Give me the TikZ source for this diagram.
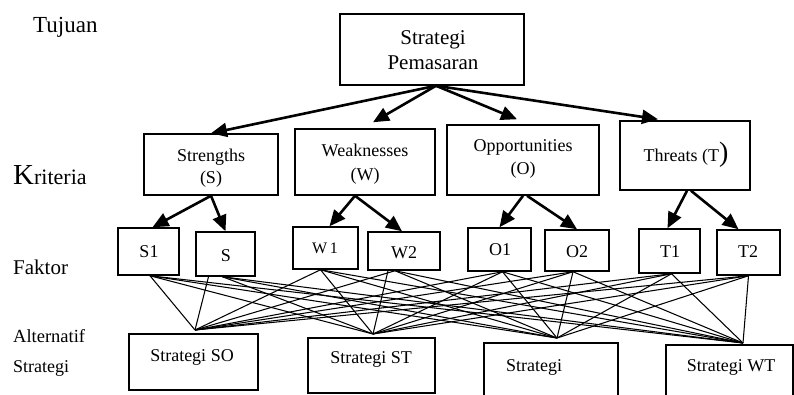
\documentclass[tikz,border=0pt]{standalone}
\usepackage{fontspec}
\setmainfont{Liberation Serif}
\usetikzlibrary{arrows.meta,fit}
\begin{document}
\begin{tikzpicture}[x=1pt,y=-1pt,
  box/.style={draw,line width=1.5pt,inner sep=0pt},
  txt/.style={inner sep=0pt,font=\fontsize{18}{22}\selectfont,align=center},
  side/.style={inner sep=0pt,anchor=west},
  arr/.style={line width=2.6pt,-{Triangle[length=16pt,width=14pt]}},
  thinline/.style={line width=1.05pt}]
\useasboundingbox (0,0) rectangle (794,394);

% left labels
\node[side,font=\fontsize{23}{23}\selectfont] (tuj) at (33,27) {Tujuan};
\node[side,font=\fontsize{22}{22}\selectfont] (krit) at (13,175) {{\fontsize{29}{29}\selectfont K}riteria};
\node[side,font=\fontsize{21}{21}\selectfont] (fak) at (13,267) {Faktor};
\node[side,font=\fontsize{18.5}{18.5}\selectfont] (alt) at (13,336) {Alternatif};
\node[side,font=\fontsize{18}{18}\selectfont] (strat) at (13,368) {Strategi};

% goal
\node[box,fit={(340,14)(524,85)}] (goal) {};
\node[txt,font=\fontsize{21}{25}\selectfont] (goalT) at (433,50) {Strategi\\Pemasaran};

% criteria
\node[box,fit={(144,134)(278,195)}] (str) {};
\node[box,fit={(295,129)(435,195)}] (wk) {};
\node[box,fit={(447,125)(599,195)}] (op) {};
\node[box,fit={(620,121)(750,190)}] (th) {};
\node[txt] (strT) at (211,168) {Strengths\\(S)};
\node[txt,font=\fontsize{18}{24}\selectfont] (wkT) at (365,164) {Weaknesses\\(W)};
\node[txt,font=\fontsize{18}{23}\selectfont] (opT) at (523,158.5) {Opportunities\\(O)};
\node[txt] (thT) at (686,155) {Threats (T{\fontsize{28}{28}\selectfont)}};

% factors
\node[box,fit={(118,228)(179,275)}] (s1) {};
\node[box,fit={(196,232)(255,276)}] (s) {};
\node[box,fit={(293,227)(358,269)}] (w1) {};
\node[box,fit={(368,232)(440,270)}] (w2) {};
\node[box,fit={(468,228)(531,271)}] (o1) {};
\node[box,fit={(545,230)(609,271)}] (o2) {};
\node[box,fit={(639,229)(700,273)}] (t1) {};
\node[box,fit={(717,230)(780,275)}] (t2) {};
\node[txt] (s1T) at (149,252) {S1};
\node[txt] (sT) at (226,256) {S};
\node[txt,font=\fontsize{16}{18}\selectfont] (w1T) at (325,248) {W\,1};
\node[txt] (w2T) at (404,253) {W2};
\node[txt] (o1T) at (500,250) {O1};
\node[txt] (o2T) at (577,252) {O2};
\node[txt] (t1T) at (670,252) {T1};
\node[txt] (t2T) at (748,252) {T2};

% alternatives
\node[box,fit={(129,334)(258,390)}] (so) {};
\node[box,fit={(308,338)(435,393)}] (st) {};
\node[box,fit={(484,343)(618,400)}] (sO) {};
\node[box,fit={(666,345)(793,400)}] (wt) {};
\node[txt] (soT) at (192,357) {Strategi SO};
\node[txt] (stT) at (371,359) {Strategi ST};
\node[txt] (sOT) at (534,367) {Strategi};
\node[txt] (wtT) at (731,367) {Strategi WT};

% arrows goal -> criteria
\draw[arr] ([xshift=4pt]goal.south) -- (str.north);
\draw[arr] ([xshift=4pt]goal.south) -- ([xshift=8pt,yshift=6pt]wk.north);
\draw[arr] ([xshift=4pt]goal.south) -- ([xshift=-6pt,yshift=5pt]op.north);
\draw[arr] ([xshift=4pt]goal.south) -- ([xshift=-27pt,yshift=1pt]th.north);

% arrows criteria -> factors
\draw[arr] (str.south) -- ([xshift=4pt]s1.north);
\draw[arr] (str.south) -- (s.north);
\draw[arr] ([xshift=-10pt]wk.south) -- ([xshift=4pt]w1.north);
\draw[arr] ([xshift=-10pt]wk.south) -- ([xshift=-2pt]w2.north);
\draw[arr] (op.south) -- (o1.north);
\draw[arr] ([xshift=4pt]op.south) -- (o2.north);
\draw[arr] ([xshift=2pt]th.south) -- ([xshift=-2pt]t1.north);
\draw[arr] ([xshift=6pt]th.south) -- ([xshift=-10pt]t2.north);

% convergence points
\coordinate (cSO) at (195,330);
\coordinate (cST) at (373,334);
\coordinate (cO) at (557,338);
\coordinate (cWT) at (743,343);

% start points
\coordinate (s1b) at ([xshift=1.5pt]s1.south);
\coordinate (sb) at ([xshift=-3pt]s.south);
\coordinate (sbL) at ([xshift=-17pt]s.south);
\coordinate (w1b) at ([xshift=-5pt]w1.south);
\coordinate (w2b) at ([xshift=-9pt]w2.south);
\coordinate (w2L) at ([xshift=-16pt]w2.south);
\coordinate (o1b) at ([xshift=3pt]o1.south);
\coordinate (o2b) at ([xshift=-4pt]o2.south);
\coordinate (t1b) at ([xshift=2pt]t1.south);
\coordinate (t2b) at (t2.south);

\foreach \f in {s1b,w1b,o1b,o2b,t1b,t2b}{
  \foreach \c in {cSO,cST,cO,cWT}{
    \draw[thinline] (\f) -- (\c);
  }
}
\draw[thinline] (sbL) -- (cSO);
\foreach \c in {cST,cO,cWT}{\draw[thinline] (sb) -- (\c);}
\draw[thinline] (w2L) -- (cST);
\foreach \c in {cSO,cO,cWT}{\draw[thinline] (w2b) -- (\c);}
\end{tikzpicture}
\end{document}
